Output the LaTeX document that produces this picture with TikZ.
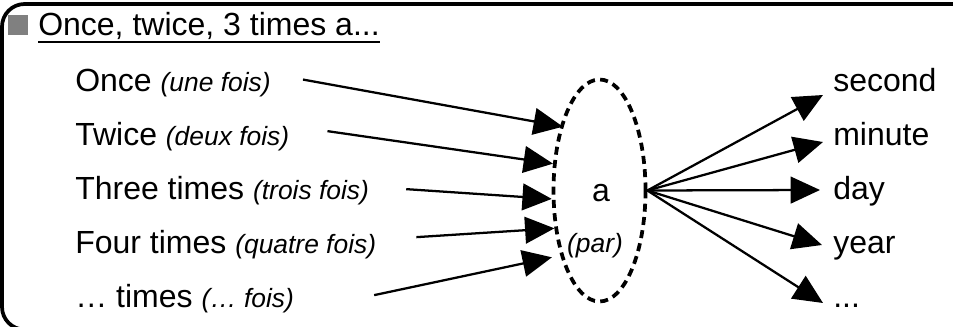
\documentclass[tikz,border=0pt]{standalone}
\usepackage{fontspec}
\setmainfont{Liberation Sans}
\usepackage{tikz}
\usetikzlibrary{shapes.geometric, arrows.meta, calc}
\definecolor{mygray}{RGB}{128,128,128}
\definecolor{mydark}{RGB}{0,0,0}
\newcommand{\frfois}[1]{{\fontsize{19.8}{24}\selectfont\itshape #1}}
\tikzset{
  word/.style={inner sep=0pt, anchor=base west,
    font=\fontsize{24}{29}\selectfont},
  timearrow/.style={-{Triangle[length=22pt, width=20pt]},
    line width=1.7pt, color=mydark},
  parring/.style={ellipse, draw=mydark, line width=2.8pt,
    dash pattern=on 6pt off 4pt, minimum width=69pt,
    minimum height=166.5pt, inner sep=0pt},
  frame/.style={line width=2.8pt, rounded corners=17pt, color=mydark}
}
\begin{document}
\begin{tikzpicture}[x=0.75pt, y=-0.75pt]
  \useasboundingbox (0,0) rectangle (953,327);
  \clip (0,0) rectangle (953,327);
  % Frame
  \draw[frame] (2,4) rectangle (1100,329.6);

  % Title
  \fill[mygray] (8,15) rectangle (28,35);
  \node[word] (title) at (38,36) {Once, twice, 3 times a...};
  \draw[line width=1.4pt] ($(title.base west)+(0,6)$) -- ($(title.base east)+(0,6)$);

  % How many times
  \node[word] (once)  at (75,92)  {Once \frfois{(une fois)}};
  \node[word] (twice) at (75,146) {Twice \frfois{(deux fois)}};
  \node[word] (three) at (75,200) {Three times \frfois{(trois fois)}};
  \node[word] (four)  at (75,254) {Four times \frfois{(quatre fois)}};
  \node[word] (dots)  at (75,308) {… times \frfois{(… fois)}};

  % a (par)
  \node[parring] (ell) at (599.5,190.5) {};
  \node[word, anchor=base] (a) at (601,202) {a};
  \node[word, anchor=base] (par) at (595,253) {\frfois{(par)}};

  % Per what
  \node[word] (sec)    at (833,92)  {second};
  \node[word] (minute) at (833,146) {minute};
  \node[word] (day)    at (833,200) {day};
  \node[word] (year)   at (833,254) {year};
  \node[word] (more)   at (833,308) {...};

  \draw[timearrow] ($(once.east)+(32,-4)$)  -- ($(ell.120)+(2,3)$);
  \draw[timearrow] ($(twice.east)+(38,-6)$) -- (ell.150);
  \draw[timearrow] ($(three.east)+(37,-2)$) -- (ell.190);
  \draw[timearrow] ($(four.east)+(40,-8)$)  -- (ell.220);
  \draw[timearrow] ($(dots.east)+(80,-4)$)  -- ($(ell.240)+(-9,0)$);

  \draw[timearrow] (ell.east) -- ($(sec.base west)+(-10,3)$);
  \draw[timearrow] (ell.east) -- ($(minute.base west)+(-10,-4)$);
  \draw[timearrow] (ell.east) -- ($(day.base west)+(-13,-10)$);
  \draw[timearrow] (ell.east) -- ($(year.base west)+(-11,-9)$);
  \draw[timearrow] (ell.east) -- ($(more.base west)+(-10,-5)$);
\end{tikzpicture}
\end{document}
